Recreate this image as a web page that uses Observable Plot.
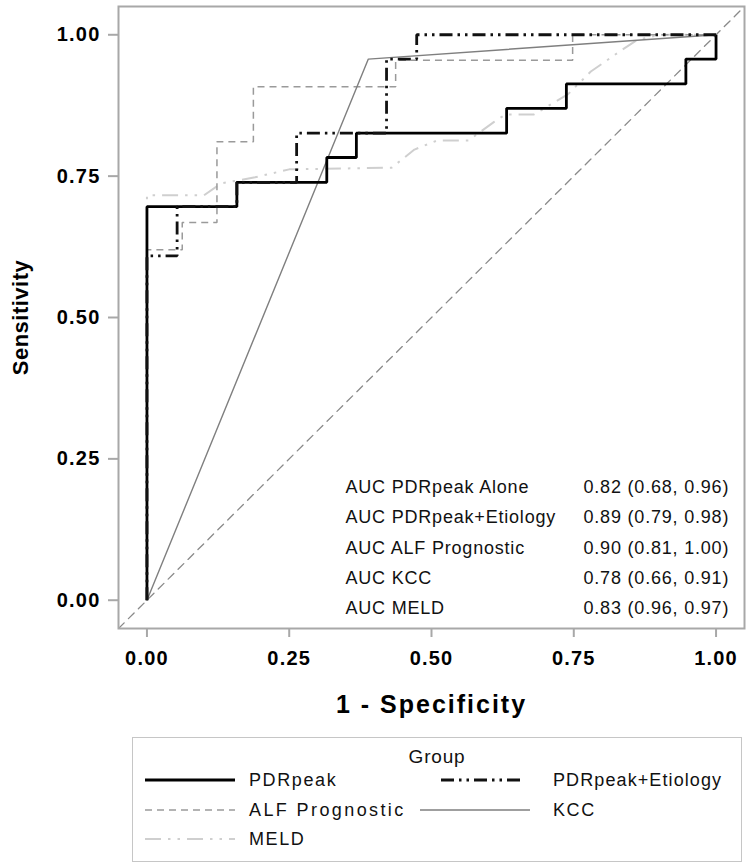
<!DOCTYPE html>
<html>
<head>
<meta charset="utf-8">
<script src="https://cdn.jsdelivr.net/npm/d3@7"></script>
<script src="https://cdn.jsdelivr.net/npm/@observablehq/plot@0.6"></script>
<style>
  html, body { margin: 0; padding: 0; background: #fff; }
  #wrap { position: relative; width: 750px; height: 867px; font-family: "Liberation Sans", Arial, sans-serif; color: #111; }
  #chart svg { display: block; }
  #legend { position: absolute; left: 132px; top: 737px; width: 610px; height: 125px; box-sizing: border-box; border: 1.5px solid #c6c6c6; }
  #legend .title { position: absolute; left: 0; right: 0; top: 8px; text-align: center; font-size: 19px; letter-spacing: 0.8px; }
  #legend .item { position: absolute; height: 24px; display: flex; align-items: center; }
  #legend .item svg { display: block; }
  #legend .lab { position: absolute; font-size: 18px; letter-spacing: 1.6px; white-space: nowrap; line-height: 24px; }
</style>
</head>
<body>
<div id="wrap">
  <div id="chart"></div>
  <div id="legend"></div>
</div>
<script>
// ---- data ----
const seriesNames = ["PDRpeak", "PDRpeak+Etiology", "ALF Prognostic", "KCC", "MELD"];

const pdrFpr  = [0, 0, 0.158, 0.158, 0.316, 0.316, 0.368, 0.368, 0.632, 0.632, 0.737, 0.737, 0.947, 0.947, 1.0, 1.0];
const pdrSens = [0, 0.696, 0.696, 0.739, 0.739, 0.783, 0.783, 0.826, 0.826, 0.870, 0.870, 0.913, 0.913, 0.957, 0.957, 1.0];

const etioFpr  = [0, 0, 0.053, 0.053, 0.158, 0.158, 0.263, 0.263, 0.421, 0.421, 0.474, 0.474, 1.0];
const etioSens = [0, 0.609, 0.609, 0.696, 0.696, 0.739, 0.739, 0.826, 0.826, 0.957, 0.957, 1.0, 1.0];

const alfFpr  = [0, 0, 0.062, 0.062, 0.123, 0.123, 0.187, 0.187, 0.437, 0.437, 0.748, 0.748, 1.0];
const alfSens = [0, 0.620, 0.620, 0.668, 0.668, 0.811, 0.811, 0.908, 0.908, 0.955, 0.955, 1.0, 1.0];

const kccFpr  = [0, 0.389, 1.0];
const kccSens = [0, 0.957, 1.0];

const meldFpr  = [0, 0, 0.10, 0.13, 0.19, 0.25, 0.43, 0.47, 0.51, 0.565, 0.61, 0.63, 0.68, 0.74, 0.78, 0.83, 0.86, 0.90, 1.0];
const meldSens = [0, 0.716, 0.716, 0.737, 0.748, 0.762, 0.765, 0.797, 0.813, 0.813, 0.846, 0.859, 0.859, 0.895, 0.935, 0.970, 0.990, 1.0, 1.0];

const chanceLine = [-0.05, 1.05];

const xTicks = [0, 0.25, 0.5, 0.75, 1];
const yTicks = [0, 0.25, 0.5, 0.75, 1];

const aucLabels = ["AUC PDRpeak Alone", "AUC PDRpeak+Etiology", "AUC ALF Prognostic", "AUC KCC", "AUC MELD"];
const aucValues = ["0.82 (0.68, 0.96)", "0.89 (0.79, 0.98)", "0.90 (0.81, 1.00)", "0.78 (0.66, 0.91)", "0.83 (0.96, 0.97)"];

const xTitle = "1 - Specificity";
const yTitle = "Sensitivity";
const legendTitle = "Group";

// ---- styles ----
const FONT = '"Liberation Sans", Arial, sans-serif';
const styles = {
  "PDRpeak":          {stroke: "#000",    strokeWidth: 2.8, dash: null},
  "PDRpeak+Etiology": {stroke: "#111",    strokeWidth: 2.8, dash: "13,5,2.5,5,2.5,5"},
  "ALF Prognostic":   {stroke: "#9a9a9a", strokeWidth: 1.5, dash: "7,5"},
  "KCC":              {stroke: "#7f7f7f", strokeWidth: 1.4, dash: null},
  "MELD":             {stroke: "#cfcfcf", strokeWidth: 2.0, dash: "16,7,2.5,7,2.5,7"}
};

const toPts = (xs, ys) => xs.map((x, i) => ({x, y: ys[i]}));
const seriesData = {
  "PDRpeak": toPts(pdrFpr, pdrSens),
  "PDRpeak+Etiology": toPts(etioFpr, etioSens),
  "ALF Prognostic": toPts(alfFpr, alfSens),
  "KCC": toPts(kccFpr, kccSens),
  "MELD": toPts(meldFpr, meldSens)
};
const drawOrder = ["MELD", "ALF Prognostic", "KCC", "PDRpeak", "PDRpeak+Etiology"];

const lineMarks = drawOrder.map(name => Plot.line(seriesData[name], {
  x: "x", y: "y",
  stroke: styles[name].stroke,
  strokeWidth: styles[name].strokeWidth,
  strokeDasharray: styles[name].dash,
  strokeLinejoin: "miter",
  strokeLinecap: "butt"
}));

const plot = Plot.plot({
  width: 750,
  height: 725,
  marginLeft: 118,
  marginRight: 6,
  marginTop: 6,
  marginBottom: 97,
  x: {domain: [-0.05, 1.05], label: null},
  y: {domain: [-0.05, 1.05], label: null},
  style: {fontFamily: FONT, background: "white", color: "black", overflow: "visible"},
  marks: [
    Plot.line(toPts(chanceLine, chanceLine), {x: "x", y: "y", stroke: "#8a8a8a", strokeWidth: 1.3, strokeDasharray: "8,6", clip: true}),
    ...lineMarks,
    Plot.frame({stroke: "#a8a8a8", strokeWidth: 2}),
    Plot.axisX({ticks: xTicks, tickFormat: d => d.toFixed(2), tickSize: 9, tickPadding: 13,
                stroke: "#a8a8a8", strokeWidth: 2, fill: "black", fontSize: 20, fontWeight: "bold", label: null}),
    Plot.axisY({ticks: yTicks, tickFormat: d => d.toFixed(2), tickSize: 10, tickPadding: 8,
                stroke: "#a8a8a8", strokeWidth: 2, fill: "black", fontSize: 20, fontWeight: "bold", label: null}),
    Plot.text([xTitle], {frameAnchor: "bottom", dy: 76, textAnchor: "middle", lineAnchor: "middle", fontSize: 25, fontWeight: "bold", fill: "black"}),
    Plot.text([yTitle], {frameAnchor: "left", dx: -98, rotate: -90, textAnchor: "middle", lineAnchor: "middle", fontSize: 22, fontWeight: "bold", fill: "black"}),
    Plot.text([aucLabels.join("\n")], {frameAnchor: "bottom-left", dx: 227, dy: -15, textAnchor: "start", lineAnchor: "bottom",
                lineHeight: 1.667, fontSize: 18, fill: "#111"}),
    Plot.text([aucValues.join("\n")], {frameAnchor: "bottom-left", dx: 465, dy: -15, textAnchor: "start", lineAnchor: "bottom",
                lineHeight: 1.667, fontSize: 18, fill: "#111"})
  ]
});

// letter spacing per kind of text (set as SVG attribute and CSS)
const spacingFor = txt => {
  if (txt.startsWith("AUC") || (txt.startsWith("0.8") && txt.includes("("))) return 0.8;
  if (txt === xTitle) return 2;
  if (txt === yTitle) return 0.5;
  if (/^[01]\.\d\d$/.test(txt)) return 1.2;
  return 0;
};
plot.querySelectorAll("text").forEach(el => {
  const s = spacingFor(el.textContent.trim());
  if (s) {
    el.setAttribute("letter-spacing", s);
    el.style.letterSpacing = s + "px";
    el.querySelectorAll("tspan").forEach(ts => { ts.setAttribute("letter-spacing", s); ts.style.letterSpacing = s + "px"; });
  }
});
document.getElementById("chart").appendChild(plot);

// ---- legend ----
const legend = document.getElementById("legend");
const t = document.createElement("div");
t.className = "title";
t.textContent = legendTitle;
legend.appendChild(t);

const legendPos = {
  "PDRpeak":          {sx: 12,  sw: 90, lx: 116, top: 30},
  "PDRpeak+Etiology": {sx: 308, sw: 80, lx: 420, top: 30},
  "ALF Prognostic":   {sx: 12,  sw: 90, lx: 116, top: 60},
  "KCC":              {sx: 287, sw: 110, lx: 420, top: 60},
  "MELD":             {sx: 12,  sw: 90, lx: 116, top: 89}
};
seriesNames.forEach(name => {
  const p = legendPos[name], s = styles[name];
  const item = document.createElement("div");
  item.className = "item";
  item.style.left = p.sx + "px";
  item.style.top = p.top + "px";
  const svg = d3.create("svg").attr("width", p.sw).attr("height", 24);
  svg.append("line").attr("x1", 0).attr("x2", p.sw).attr("y1", 12).attr("y2", 12)
    .attr("stroke", s.stroke).attr("stroke-width", s.strokeWidth)
    .attr("stroke-dasharray", s.dash);
  item.appendChild(svg.node());
  legend.appendChild(item);
  const lab = document.createElement("div");
  lab.className = "lab";
  lab.style.left = p.lx + "px";
  lab.style.top = p.top + "px";
  if (name === "PDRpeak+Etiology") lab.style.letterSpacing = "1.1px";
  if (name === "ALF Prognostic") lab.style.letterSpacing = "2.4px";
  lab.textContent = name;
  legend.appendChild(lab);
});
</script>
</body>
</html>
